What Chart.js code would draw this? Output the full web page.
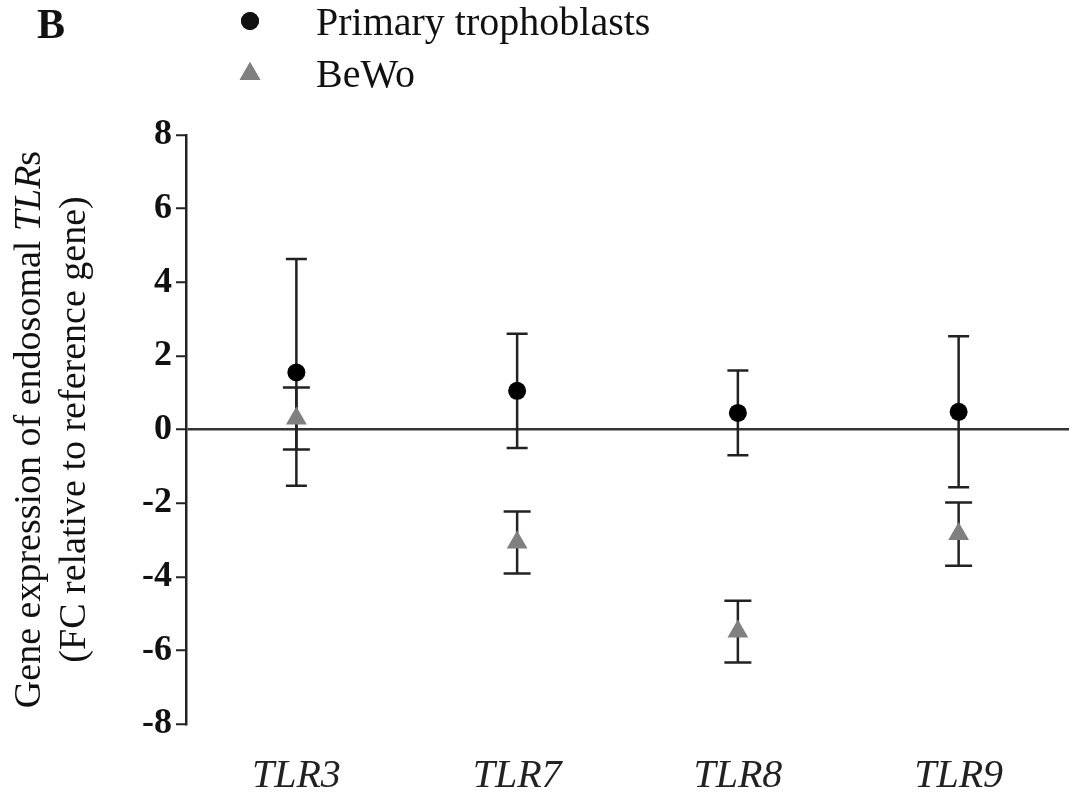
<!DOCTYPE html>
<html>
<head>
<meta charset="utf-8">
<script src="https://cdn.jsdelivr.net/npm/chart.js@4"></script>
<style>
  body { margin: 0; background: #fff; }
</style>
</head>
<body>
<canvas id="chart" width="1076" height="799"></canvas>
<script>
const categories = ["TLR3", "TLR7", "TLR8", "TLR9"];
const primaryMean = [1.55, 1.05, 0.45, 0.48];
const primaryErr = [3.08, 1.55, 1.15, 2.05];
const bewoMean = [0.3, -3.07, -5.49, -2.84];
const bewoErr = [0.84, 0.84, 0.84, 0.86];
const yTicks = [-8, -6, -4, -2, 0, 2, 4, 6, 8];

const serif = "'Liberation Serif', 'Times New Roman', serif";

// error bars drawn under the markers
const errorBars = {
  id: "errorBars",
  beforeDatasetsDraw(chart) {
    const ctx = chart.ctx;
    const x = chart.scales.x;
    const y = chart.scales.y;
    const sets = [
      { mean: primaryMean, err: primaryErr, cap: 21 },
      { mean: bewoMean, err: bewoErr, cap: 27 },
    ];
    ctx.save();
    ctx.strokeStyle = "#222";
    ctx.lineWidth = 2.5;
    sets.forEach(function (s) {
      for (let i = 0; i < categories.length; i++) {
        const px = x.getPixelForValue(i);
        const top = y.getPixelForValue(s.mean[i] + s.err[i]);
        const bot = y.getPixelForValue(s.mean[i] - s.err[i]);
        ctx.beginPath();
        ctx.moveTo(px, top);
        ctx.lineTo(px, bot);
        ctx.moveTo(px - s.cap / 2, top);
        ctx.lineTo(px + s.cap / 2, top);
        ctx.moveTo(px - s.cap / 2, bot);
        ctx.lineTo(px + s.cap / 2, bot);
        ctx.stroke();
      }
    });
    ctx.restore();
  },
};

// panel letter, legend and y title with italic TLR
const extras = {
  id: "extras",
  afterDraw(chart) {
    const ctx = chart.ctx;
    ctx.save();
    ctx.fillStyle = "#111";
    ctx.textBaseline = "middle";
    ctx.font = "bold 42px " + serif;
    ctx.fillText("B", 37, 27);

    ctx.font = "40px " + serif;
    Chart.helpers.drawPoint(ctx, { pointStyle: "circle", radius: 9, borderWidth: 0 }, 250, 21);
    ctx.fill();
    ctx.fillStyle = "#111";
    ctx.fillText("Primary trophoblasts", 316, 24);
    ctx.fillStyle = "#808080";
    Chart.helpers.drawPoint(ctx, { pointStyle: "triangle", radius: 12, borderWidth: 0 }, 250, 74);
    ctx.fill();
    ctx.fillStyle = "#111";
    ctx.fillText("BeWo", 316, 76);

    // y title, rotated
    const cy = (chart.chartArea.top + chart.chartArea.bottom) / 2;
    ctx.translate(30, cy);
    ctx.rotate(-Math.PI / 2);
    const parts = [
      ["Gene expression of endosomal ", ""],
      ["TLR", "italic "],
      ["s", ""],
    ];
    let total = 0;
    parts.forEach(function (p) {
      ctx.font = p[1] + "38px " + serif;
      total += ctx.measureText(p[0]).width;
    });
    let sx = -total / 2;
    ctx.textAlign = "left";
    parts.forEach(function (p) {
      ctx.font = p[1] + "38px " + serif;
      ctx.fillText(p[0], sx, 0);
      sx += ctx.measureText(p[0]).width;
    });
    ctx.font = "38px " + serif;
    ctx.textAlign = "center";
    ctx.fillText("(FC relative to reference gene)", 0, 45);
    ctx.restore();
  },
};

const config = {
  type: "line",
  data: {
    labels: categories,
    datasets: [
      {
        label: "Primary trophoblasts",
        data: primaryMean,
        showLine: false,
        pointStyle: "circle",
        pointRadius: 9,
        pointBackgroundColor: "#000",
        pointBorderWidth: 0,
      },
      {
        label: "BeWo",
        data: bewoMean,
        showLine: false,
        pointStyle: "triangle",
        pointRadius: 12,
        pointBackgroundColor: "#808080",
        pointBorderWidth: 0,
      },
    ],
  },
  options: {
    responsive: false,
    animation: false,
    layout: {
      autoPadding: false,
      padding: { top: 135, right: 7, bottom: 0, left: 0 },
    },
    plugins: {
      legend: { display: false },
      tooltip: { enabled: false },
    },
    scales: {
      x: {
        offset: true,
        grid: { display: false },
        border: { display: false },
        ticks: {
          color: "#222",
          padding: 20,
          font: { family: serif, size: 40, style: "italic" },
        },
        afterFit(scale) {
          scale.height = 75;
        },
      },
      y: {
        min: -8,
        max: 8,
        afterBuildTicks(scale) {
          scale.ticks = yTicks.map(function (v) {
            return { value: v };
          });
        },
        grid: {
          drawOnChartArea: true,
          color: function (c) {
            return c.tick && c.tick.value === 0 ? "#333" : "rgba(0,0,0,0)";
          },
          lineWidth: 2.5,
          tickColor: "#222",
          tickLength: 10,
          tickWidth: 2,
        },
        border: { display: true, color: "#222", width: 2.5 },
        ticks: {
          color: "#111",
          padding: 4,
          font: { family: serif, size: 36, weight: "bold" },
        },
        afterFit(scale) {
          scale.width = 186;
        },
      },
    },
  },
  plugins: [errorBars, extras],
};

new Chart(document.getElementById("chart"), config);
</script>
</body>
</html>
